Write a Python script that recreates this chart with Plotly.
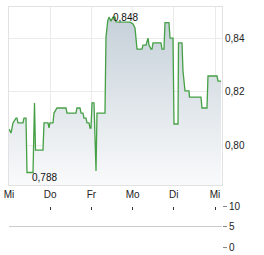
import plotly.graph_objects as go

# time in trading-day units (0 = first "Mi")
t = [0, 0.049, 0.097, 0.17, 0.194, 0.218, 0.34, 0.364, 0.388, 0.413, 0.437, 0.583, 0.619, 0.643,
     0.825, 0.85, 0.947, 0.971, 0.995, 1.068, 1.092, 1.165, 1.383, 1.408, 1.626, 1.65, 1.723, 1.748,
     1.796, 1.82, 1.869, 1.893, 1.942, 1.966, 1.99, 2.015, 2.063, 2.112, 2.136, 2.33, 2.354, 2.396,
     2.427, 2.476, 2.524, 2.573, 2.597, 2.767, 2.937, 3.01, 3.058, 3.107, 3.228, 3.252, 3.325, 3.374,
     3.398, 3.447, 3.471, 3.495, 3.689, 3.714, 3.762, 3.786, 3.883, 3.908, 3.981, 4.005, 4.102, 4.114,
     4.199, 4.223, 4.272, 4.369, 4.381, 4.66, 4.684, 4.806, 4.83, 5.049, 5.073, 5.146]
price = [0.806, 0.8045, 0.8083, 0.8101, 0.8101, 0.8083, 0.8083, 0.8101, 0.8101, 0.8101, 0.7897, 0.7897, 0.8158, 0.7981,
         0.7981, 0.8083, 0.8083, 0.8064, 0.8083, 0.8083, 0.812, 0.8139, 0.8139, 0.812, 0.812, 0.8139, 0.8139, 0.812,
         0.812, 0.8101, 0.8101, 0.8083, 0.8083, 0.8064, 0.8064, 0.8158, 0.8158, 0.7903, 0.812, 0.812, 0.8405, 0.8465,
         0.848, 0.8465, 0.848, 0.848, 0.8462, 0.8462, 0.8461, 0.8454, 0.8439, 0.836, 0.836, 0.8375, 0.8375, 0.8401,
         0.8375, 0.836, 0.836, 0.8383, 0.8383, 0.836, 0.836, 0.8459, 0.8459, 0.8401, 0.8401, 0.8079, 0.8079, 0.8383,
         0.8383, 0.8278, 0.8203, 0.8203, 0.818, 0.818, 0.8139, 0.8139, 0.8259, 0.8259, 0.824, 0.824]

day_ticks = [0, 1, 2, 3, 4, 5]
day_labels = ["Mi", "Do", "Fr", "Mo", "Di", "Mi"]
price_ticks = [0.80, 0.82, 0.84]
price_labels = ["0,80", "0,82", "0,84"]
vol_ticks = [0, 5, 10]
vol_labels = ["0", "5", "10"]
max_label = "0,848"
min_label = "0,788"

FONT = "Liberation Sans, Arial, sans-serif"
GRID = "#ebebeb"

fig = go.Figure()
fig.add_trace(go.Scatter(
    x=t, y=price, mode="lines",
    line=dict(color="#45a045", width=1.3),
    fill="tozeroy",
    fillgradient=dict(type="vertical", start=0.785, stop=0.85,
                      colorscale=[[0, "#f9fafb"], [1, "#c4cfd8"]]),
    hoverinfo="skip", showlegend=False, xaxis="x", yaxis="y"))

# volume panel (empty)
fig.add_trace(go.Scatter(x=[0], y=[0], mode="markers", marker=dict(opacity=0),
                         showlegend=False, hoverinfo="skip", xaxis="x2", yaxis="y2"))

imax = price.index(max(price))
imin = price.index(min(price))
fig.add_annotation(x=t[imax], y=price[imax], text=max_label, showarrow=False,
                   xanchor="left", yanchor="middle", xshift=2, yshift=0,
                   font=dict(family=FONT, size=10, color="#111"), xref="x", yref="y")
fig.add_annotation(x=t[imin], y=price[imin], text=min_label, showarrow=False,
                   xanchor="left", yanchor="middle", xshift=3, yshift=-5,
                   font=dict(family=FONT, size=10, color="#111"), xref="x", yref="y")

xr = [0, 5.17]
fig.update_layout(
    width=264, height=255,
    margin=dict(l=9, r=42, t=7, b=8, autoexpand=False),
    paper_bgcolor="white", plot_bgcolor="white",
    font=dict(family=FONT, size=10, color="#222"),
    xaxis=dict(domain=[0, 1], range=xr, tickvals=day_ticks, ticktext=day_labels,
               showgrid=True, gridcolor=GRID, gridwidth=1, zeroline=False, automargin=False,
               showline=True, linecolor="#e2e2e2", mirror=True, ticks="", anchor="y"),
    yaxis=dict(domain=[0.2583, 1], range=[0.785, 0.8518], side="right",
               tickvals=price_ticks, ticktext=price_labels, automargin=False,
               showgrid=True, gridcolor=GRID, zeroline=False,
               showline=True, linecolor="#e2e2e2", mirror=True, ticks="", anchor="x"),
    xaxis2=dict(domain=[0, 1], range=xr, tickvals=day_ticks, showticklabels=False,
                side="top", ticks="inside", ticklen=3, tickcolor="#333", automargin=False,
                showgrid=False, zeroline=False, showline=False, anchor="y2"),
    yaxis2=dict(domain=[0, 0.1667], range=[0, 10], side="right",
                tickvals=vol_ticks, ticktext=vol_labels, automargin=False,
                showgrid=True, gridcolor="#cccccc", zeroline=False,
                ticks="outside", ticklen=4, tickcolor="#888", showline=False, anchor="x2"),
)

fig.write_html("out.html")
